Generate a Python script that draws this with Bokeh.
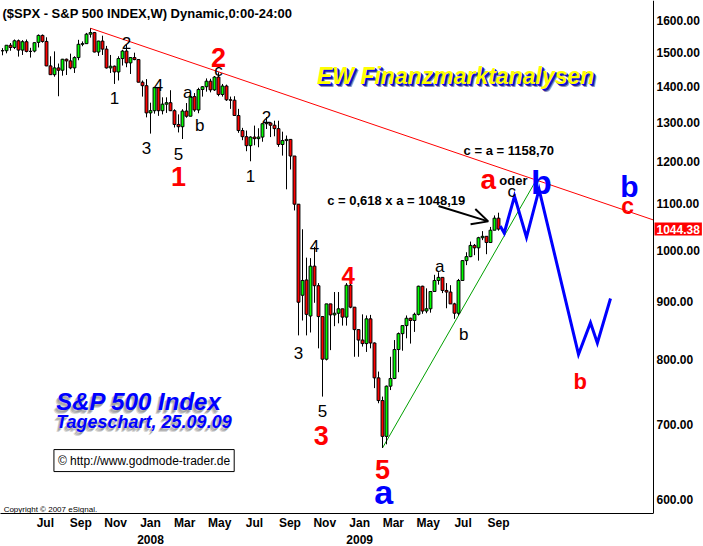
import pandas as pd
from bokeh.plotting import figure
from bokeh.models import (Range1d, LinearAxis, LogAxis, FixedTicker, Label, Arrow, OpenHead,
                          ColumnDataSource, PrintfTickFormatter, Grid)
from bokeh.core.properties import value
from bokeh.embed import file_html
from bokeh.resources import INLINE

FONT = "Liberation Sans"

# ---------------- weekly S&P 500 candles ----------------
first_week = "2007-05-07"
opens = [1505, 1505, 1522, 1515, 1536, 1507, 1533, 1503, 1504, 1531, 1553, 1534, 1459, 1433, 1453, 1446, 1479, 1474, 1453, 1484,
         1525, 1527, 1557, 1562, 1501, 1535, 1510, 1453, 1458, 1441, 1481, 1504, 1468, 1484, 1478,
         1411, 1401, 1325, 1331, 1396, 1331, 1349, 1353, 1331, 1294, 1288, 1330, 1316, 1370, 1333, 1390, 1398, 1414,
         1389, 1426, 1376, 1400, 1361, 1360, 1318, 1278, 1262, 1239, 1261, 1257, 1261, 1296, 1298, 1292, 1283, 1242,
         1252, 1255, 1213, 1099, 912, 941, 874, 968, 930, 873, 800, 896, 876, 879, 887, 872,
         931, 890, 850, 832, 826, 869, 827, 770, 735, 683, 757, 769, 816, 843, 857, 870, 866, 877, 929, 883, 887,
         919, 940, 946, 921, 918, 896, 879, 940, 979, 987, 1010, 1005, 1026, 1029, 1016, 1042, 1068]
highs = [1513, 1522, 1529, 1540, 1540, 1538, 1540, 1514, 1531, 1556, 1556, 1547, 1488, 1503, 1466, 1480, 1481, 1496, 1488, 1539,
         1534, 1561, 1576, 1564, 1536, 1552, 1520, 1492, 1460, 1488, 1508, 1523, 1485, 1499, 1478,
         1416, 1420, 1353, 1396, 1397, 1368, 1368, 1388, 1335, 1321, 1335, 1352, 1380, 1380, 1395, 1400, 1422, 1421,
         1429, 1440, 1406, 1404, 1370, 1371, 1336, 1285, 1278, 1263, 1291, 1284, 1297, 1314, 1300, 1304, 1304, 1275,
         1265, 1256, 1213, 1099, 1044, 985, 984, 1007, 935, 873, 896, 896, 918, 918, 887, 935,
         943, 890, 850, 877, 875, 876, 828, 780, 741, 758, 804, 832, 845, 857, 875, 871, 880, 930, 930, 925, 920,
         951, 956, 946, 935, 931, 898, 943, 980, 996, 1018, 1013, 1028, 1040, 1029, 1049, 1074, 1080]
lows = [1491, 1497, 1505, 1510, 1487, 1492, 1500, 1484, 1500, 1515, 1530, 1458, 1433, 1427, 1371, 1430, 1432, 1449, 1438, 1476,
        1519, 1527, 1546, 1500, 1489, 1492, 1451, 1438, 1406, 1416, 1460, 1455, 1435, 1476, 1411,
        1370, 1313, 1270, 1323, 1317, 1321, 1325, 1330, 1286, 1273, 1256, 1312, 1316, 1328, 1324, 1370, 1384, 1382,
        1386, 1371, 1370, 1358, 1336, 1317, 1272, 1253, 1225, 1200, 1240, 1235, 1249, 1282, 1261, 1263, 1236, 1214,
        1133, 1180, 1085, 840, 866, 840, 845, 898, 818, 741, 798, 815, 856, 861, 857, 857,
        888, 804, 804, 821, 812, 818, 754, 731, 667, 672, 751, 768, 779, 814, 835, 826, 846, 875, 878, 879, 880,
        919, 932, 916, 888, 896, 869, 875, 940, 970, 986, 990, 979, 1021, 992, 1015, 1042, 1041]
closes = [1505, 1522, 1515, 1536, 1507, 1533, 1503, 1503, 1530, 1553, 1534, 1459, 1433, 1453, 1446, 1479, 1474, 1453, 1484, 1525,
          1527, 1557, 1562, 1501, 1535, 1510, 1453, 1458, 1441, 1481, 1504, 1468, 1484, 1478, 1411,
          1401, 1325, 1331, 1396, 1331, 1349, 1353, 1331, 1294, 1288, 1330, 1316, 1370, 1333, 1390, 1398, 1414, 1389,
          1426, 1376, 1400, 1361, 1360, 1318, 1278, 1262, 1239, 1261, 1257, 1261, 1296, 1298, 1292, 1283, 1242, 1252,
          1255, 1213, 1099, 899, 940, 877, 968, 930, 873, 800, 896, 876, 879, 887, 872, 931,
          890, 850, 832, 826, 869, 827, 770, 735, 683, 757, 769, 816, 843, 857, 870, 866, 877, 929, 883, 887, 919,
          940, 946, 921, 918, 896, 879, 940, 979, 987, 1010, 1005, 1026, 1029, 1016, 1042, 1068, 1044.38]

# projected Elliott path (blue) and trend lines
proj_dates = ["2009-09-24", "2009-10-01", "2009-10-19", "2009-11-09", "2009-12-01",
              "2010-02-08", "2010-03-01", "2010-03-13", "2010-04-05"]
proj_values = [1051, 1036, 1117, 1027, 1133, 808, 862, 827, 906]
resist_dates = ["2007-10-08", "2010-06-19 06:00"]
resist_values = [1576, 1064]
support_dates = ["2009-03-02", "2009-11-24"]
support_values = [667, 1150]

# axis ticks
price_ticks = [600, 700, 800, 900, 1000, 1100, 1200, 1300, 1400, 1500, 1600]
month_tick_dates = ["2007-07-21", "2007-09-21", "2007-11-21", "2008-01-21", "2008-03-21", "2008-05-21", "2008-07-21",
                    "2008-09-21", "2008-11-21", "2009-01-21", "2009-03-21", "2009-05-21", "2009-07-21", "2009-09-21"]
month_labels = ["Jul", "Sep", "Nov", "Jan", "Mar", "May", "Jul", "Sep", "Nov", "Jan", "Mar", "May", "Jul", "Sep"]
year_tick_dates = ["2008-01-21", "2009-01-21"]
year_labels = ["2008", "2009"]

# wave labels
small_text = ["2", "1", "4", "a", "c", "3", "5", "b", "2", "1", "4", "3", "5", "a", "b", "c"]
small_dates = ["2007-12-10", "2007-11-19", "2008-02-04", "2008-03-26", "2008-05-19", "2008-01-14", "2008-03-10",
               "2008-04-16", "2008-08-11", "2008-07-14", "2008-11-03", "2008-10-06", "2008-11-17", "2009-06-10",
               "2009-07-22", "2009-10-14"]
small_prices = [1528, 1365, 1402, 1382, 1444, 1234, 1217, 1290, 1315, 1165, 1008, 811, 719, 967, 841, 1129]

red_text = ["2", "1", "4", "3", "5", "a", "c", "b"]
red_dates = ["2008-05-19", "2008-03-10", "2009-01-01", "2008-11-15", "2009-03-02", "2009-09-03", "2010-05-05", "2010-02-11"]
red_prices = [1485, 1164, 950, 684, 638, 1157, 1095, 765]
red_sizes = ["27px", "27px", "24px", "27px", "27px", "28px", "23px", "22px"]

blue_text = ["a", "b", "b"]
blue_dates = ["2009-03-04", "2009-12-05", "2010-05-08"]
blue_prices = [609, 1151, 1139]
blue_sizes = ["34px", "34px", "30px"]

note_text = ["c = 0,618 x a = 1048,19", "c = a = 1158,70", "oder"]
note_dates = ["2009-03-26", "2009-10-09", "2009-10-17"]
note_prices = [1108, 1227, 1153]


def ms(s):
    return int(pd.Timestamp(s).value // 10**6)


weeks = pd.date_range(first_week, periods=len(closes), freq="W-MON")
x_start, x_stop = ms("2007-05-03 12:00"), ms("2010-09-14 18:00")
axis_at = ms("2010-06-19 06:00")          # where the price axis stands

p = figure(width=703, height=546, x_range=Range1d(x_start, x_stop), y_range=Range1d(583.2, 1668.1),
           y_axis_type="log", y_axis_location=None, x_axis_type=None,
           output_backend="svg", toolbar_location=None,
           min_border_left=0, min_border_top=0, min_border_right=0, min_border_bottom=32,
           outline_line_color=None, background_fill_color="white", border_fill_color="white")
p.center = [r for r in p.center if not isinstance(r, Grid)]

ya = LogAxis(fixed_location=axis_at, ticker=FixedTicker(ticks=price_ticks),
             formatter=PrintfTickFormatter(format="%.2f"))
ya.major_tick_line_color = None
ya.minor_tick_line_color = None
ya.major_tick_out = 0
ya.major_tick_in = 0
ya.major_label_standoff = 3
ya.axis_line_color = "black"
ya.major_label_text_font = FONT
ya.major_label_text_font_style = "bold"
ya.major_label_text_font_size = "12px"
ya.major_label_text_color = "black"
p.add_layout(ya, "right")

m_ticks = [ms(d) for d in month_tick_dates]
y_ticks = [ms(d) for d in year_tick_dates]
ax_m = LinearAxis(ticker=FixedTicker(ticks=m_ticks), bounds=(x_start, axis_at),
                  major_label_overrides={t: s for t, s in zip(m_ticks, month_labels)})
ax_y = LinearAxis(ticker=FixedTicker(ticks=y_ticks),
                  major_label_overrides={t: s for t, s in zip(y_ticks, year_labels)})
for ax in (ax_m, ax_y):
    ax.major_tick_line_color = None
    ax.minor_tick_line_color = None
    ax.major_tick_out = 0
    ax.major_tick_in = 0
    ax.major_label_text_font = FONT
    ax.major_label_text_font_style = "bold"
    ax.major_label_text_font_size = "12px"
    ax.major_label_text_color = "black"
ax_m.axis_line_color = "black"
ax_m.major_label_standoff = 2
ax_y.axis_line_color = None
ax_y.major_label_standoff = 2
p.add_layout(ax_m, "below")
p.add_layout(ax_y, "below")

# trend lines
p.line([ms(d) for d in resist_dates], resist_values, line_color="#FF0000", line_width=1)
p.line([ms(d) for d in support_dates], support_values, line_color="#00A000", line_width=1)

# candles
src = ColumnDataSource(dict(
    x=weeks, h=highs, l=lows,
    top=[max(o, c) for o, c in zip(opens, closes)],
    bottom=[min(o, c) for o, c in zip(opens, closes)],
    color=["#00FF00" if c > o else "#FF0000" for o, c in zip(opens, closes)],
))
p.segment(x0="x", y0="h", x1="x", y1="l", source=src, line_color="black", line_width=1)
p.vbar(x="x", width=5 * 86400000, top="top", bottom="bottom", fill_color="color",
       line_color="black", line_width=1, source=src)

# projection
p.line([ms(d) for d in proj_dates], proj_values, line_color="#0000FF", line_width=3, line_join="miter")

# texts
p.text(x=[ms(d) for d in small_dates], y=small_prices, text=small_text, text_font=value(FONT),
       text_font_size="17px", text_align="center", text_baseline="alphabetic", text_color="black")
p.text(x=[ms(d) for d in red_dates], y=red_prices, text=red_text, text_font=value(FONT),
       text_font_size=red_sizes, text_font_style="bold", text_align="center", text_baseline="alphabetic",
       text_color="#FF0000")
p.text(x=[ms(d) for d in blue_dates], y=blue_prices, text=blue_text, text_font=value(FONT),
       text_font_size=blue_sizes, text_font_style="bold", text_align="center", text_baseline="alphabetic",
       text_color="#0000FF")
p.text(x=[ms(d) for d in note_dates], y=note_prices, text=note_text, text_font=value(FONT),
       text_font_size="13px", text_font_style="bold", text_align="center", text_baseline="alphabetic",
       text_color="black")

p.add_layout(Arrow(end=OpenHead(size=16, line_width=2, line_color="black"),
                   x_start=ms("2009-06-08"), y_start=1095, x_end=ms("2009-09-03"), y_end=1061,
                   line_width=2, line_color="black"))

# title and credits
p.add_layout(Label(x=ms("2007-05-07"), y=1623, text="($SPX - S&P 500 INDEX,W) Dynamic,0:00-24:00",
                   text_font=FONT, text_font_size="13px", text_font_style="bold", text_color="black",
                   text_align="left", text_baseline="alphabetic"))
p.add_layout(Label(x=ms("2007-05-09"), y=588, text="Copyright \u00a9 2007 eSignal.", text_font=FONT,
                   text_font_size="8px", text_color="black", text_align="left", text_baseline="alphabetic"))

# EW Finanzmarktanalysen (yellow with blue shadow)
ew_x, ew_y = ms("2009-07-08"), 1428
for dx, dy, col, a in [(3, -3, "#000060", 0.45), (2, -2, "#0000A0", 0.8), (1, -1, "#0000FF", 0.9)]:
    p.add_layout(Label(x=ew_x, y=ew_y, x_offset=dx, y_offset=dy, text="EW Finanzmarktanalysen", text_font=FONT,
                       text_font_size="23px", text_font_style="bold italic", text_color=col, text_alpha=a,
                       text_align="center", text_baseline="alphabetic"))
p.add_layout(Label(x=ew_x, y=ew_y, text="EW Finanzmarktanalysen", text_font=FONT,
                   text_font_size="23px", text_font_style="bold italic", text_color="#FFFF00",
                   text_align="center", text_baseline="alphabetic"))

# S&P 500 Index block with grey shadow
for txt, dt, pr, sz in [("S&P 500 Index", "2007-08-09", 733, "24px"),
                        ("Tageschart, 25.09.09", "2007-08-09", 704, "18px")]:
    for dx, dy, a in [(-3, -4, 0.25), (-2, -3, 0.3), (-1, -2, 0.3)]:
        p.add_layout(Label(x=ms(dt), y=pr, x_offset=dx, y_offset=dy, text=txt, text_font=FONT,
                           text_font_size=sz, text_font_style="bold italic", text_color="#606060", text_alpha=a,
                           text_align="left", text_baseline="alphabetic"))
    p.add_layout(Label(x=ms(dt), y=pr, text=txt, text_font=FONT, text_font_size=sz,
                       text_font_style="bold italic", text_color="#0000FF",
                       text_align="left", text_baseline="alphabetic"))

p.add_layout(Label(x=ms("2007-08-05"), y=650, text="\u00a9 http://www.godmode-trader.de", text_font=FONT,
                   text_font_size="12px", text_color="black", text_align="left", text_baseline="alphabetic",
                   background_fill_color="white", border_line_color="black", border_line_width=1, padding=4))

# last price tag on the price axis
p.add_layout(Label(x=axis_at, y=closes[-1], x_offset=1, text="%.2f" % closes[-1], text_font=FONT,
                   text_font_size="12px", text_font_style="bold", text_color="white", text_align="left",
                   text_baseline="middle", background_fill_color="#FF0000", padding=2))

open("out.html", "w").write(file_html(p, INLINE))
